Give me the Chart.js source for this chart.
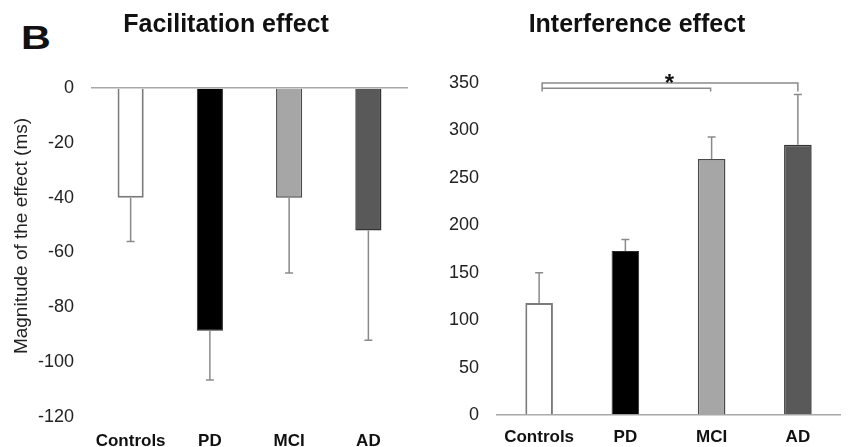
<!DOCTYPE html>
<html>
<head>
<meta charset="utf-8">
<script src="https://cdn.jsdelivr.net/npm/chart.js@4/dist/chart.umd.min.js"></script>
<style>
  body { margin: 0; background: #fff; width: 849px; height: 447px; overflow: hidden; position: relative; }
  #panelLetter { position: absolute; left: 21px; top: 21px; font: bold 33px "Liberation Sans", Arial, sans-serif; line-height: 1; transform: scaleX(1.25); transform-origin: left top; color: #111; }
  .box { position: absolute; top: 0; height: 447px; }
</style>
</head>
<body>
<div id="panelLetter">B</div>
<div class="box" style="left:0;width:430px"><canvas id="facChart" width="430" height="447"></canvas></div>
<div class="box" style="left:430px;width:419px"><canvas id="intChart" width="419" height="447"></canvas></div>
<script>
const groups = ['Controls', 'PD', 'MCI', 'AD'];

// facilitation effect (ms)
const facMeans = [-40, -88.5, -40, -52];
const facErrors = [16, 18, 27.5, 40];
const facTicks = [0, -20, -40, -60, -80, -100, -120];

// interference effect (ms)
const intMeans = [118, 173, 270, 285];
const intErrors = [32, 12, 23, 53];
const intTicks = [0, 50, 100, 150, 200, 250, 300, 350];

const fillColors = ['#ffffff', '#000000', '#a6a6a6', '#595959'];
const edgeColors = ['#7a7a7a', '#2a2a2a', '#4a4a4a', '#333333'];

const FONT = '"Liberation Sans", Arial, sans-serif';

// error bars drawn away from zero, small cap at the end
const errorBars = {
  id: 'errorBars',
  afterDatasetsDraw(chart, args, opts) {
    const ctx = chart.ctx;
    const meta = chart.getDatasetMeta(0);
    const y = chart.scales.y;
    ctx.save();
    ctx.strokeStyle = '#8a8a8a';
    ctx.lineWidth = 1.5;
    meta.data.forEach((bar, i) => {
      const v = opts.means[i];
      const end = v + Math.sign(v) * opts.errors[i];
      const y0 = y.getPixelForValue(v);
      const y1 = y.getPixelForValue(end);
      ctx.beginPath();
      ctx.moveTo(bar.x, y0);
      ctx.lineTo(bar.x, y1);
      ctx.moveTo(bar.x - 4, y1);
      ctx.lineTo(bar.x + 4, y1);
      ctx.stroke();
    });
    ctx.restore();
  }
};

// free text items: panel titles, axis label
const textItems = {
  id: 'textItems',
  afterDraw(chart, args, opts) {
    const ctx = chart.ctx;
    (opts.items || []).forEach(t => {
      ctx.save();
      ctx.font = t.font;
      ctx.fillStyle = t.color || '#111';
      ctx.textAlign = 'center';
      ctx.textBaseline = 'middle';
      ctx.translate(t.x, t.y);
      if (t.rotate) ctx.rotate(t.rotate);
      ctx.fillText(t.text, 0, 0);
      ctx.restore();
    });
  }
};

// significance bracket: Controls vs MCI and Controls vs AD
const bracket = {
  id: 'bracket',
  afterDraw(chart, args, opts) {
    if (!opts.on) return;
    const ctx = chart.ctx;
    const x = chart.scales.x, y = chart.scales.y;
    const xa = x.getPixelForValue(0) + 3;
    const xm = x.getPixelForValue(2) - 1;
    const xd = x.getPixelForValue(3);
    const yTop = y.getPixelForValue(350);
    const yIn = y.getPixelForValue(344.5);
    const yEnd = y.getPixelForValue(341);
    ctx.save();
    ctx.strokeStyle = '#8a8a8a';
    ctx.lineWidth = 1.5;
    ctx.beginPath();
    ctx.moveTo(xa, yEnd); ctx.lineTo(xa, yTop); ctx.lineTo(xd, yTop); ctx.lineTo(xd, yEnd);
    ctx.moveTo(xa, yIn); ctx.lineTo(xm, yIn); ctx.lineTo(xm, yEnd);
    ctx.stroke();
    ctx.fillStyle = '#111';
    ctx.font = 'bold 24px ' + FONT;
    ctx.textAlign = 'center';
    ctx.textBaseline = 'alphabetic';
    ctx.fillText('*', (xa + xm) / 2 + 43, yTop + 8);
    ctx.restore();
  }
};

function makeChart(id, means, errors, ticks, cfg) {
  return new Chart(document.getElementById(id), {
    type: 'bar',
    data: {
      labels: groups,
      datasets: [{
        data: means,
        backgroundColor: fillColors,
        borderColor: edgeColors,
        borderWidth: [2, 1, 1.5, 1.5],
        categoryPercentage: 1,
        barPercentage: cfg.barPct
      }]
    },
    plugins: [errorBars, textItems, bracket],
    options: {
      responsive: false,
      animation: false,
      layout: { padding: cfg.padding },
      plugins: {
        legend: { display: false },
        tooltip: { enabled: false },
        errorBars: { means: means, errors: errors },
        textItems: { items: cfg.texts },
        bracket: { on: cfg.bracket }
      },
      scales: {
        x: {
          grid: { display: false },
          border: { display: false },
          ticks: { color: '#111', font: { family: FONT, size: 17, weight: 'bold' }, padding: cfg.xPad, maxRotation: 0 },
          afterFit(s) { s.height = cfg.xHeight; }
        },
        y: {
          min: Math.min(...ticks),
          max: Math.max(...ticks),
          afterBuildTicks(s) { s.ticks = ticks.map(v => ({ value: v })); },
          grid: {
            drawTicks: false,
            lineWidth: 1.5,
            color: c => (c.tick && c.tick.value === 0 ? '#a8a8a8' : 'transparent')
          },
          border: { display: false },
          ticks: { color: '#222', font: { family: FONT, size: 18 }, padding: 17 },
          afterFit(s) { s.width = cfg.yWidth; }
        }
      }
    }
  });
}

makeChart('facChart', facMeans, facErrors, facTicks, {
  barPct: 0.33,
  padding: { top: 88, right: 22, bottom: 0, left: 0 },
  yWidth: 91,
  xHeight: 30,
  xPad: 6,
  bracket: false,
  texts: [
    { text: 'Facilitation effect', x: 226, y: 25, font: 'bold 25px ' + FONT },
    { text: 'Magnitude of the effect (ms)', x: 22, y: 236, rotate: -Math.PI / 2, font: '19px ' + FONT, color: '#222' }
  ]
});

makeChart('intChart', intMeans, intErrors, intTicks, {
  barPct: 0.32,
  padding: { top: 83, right: 8, bottom: 0, left: 0 },
  yWidth: 66,
  xHeight: 32,
  xPad: 4,
  bracket: true,
  texts: [
    { text: 'Interference effect', x: 207, y: 25, font: 'bold 25px ' + FONT }
  ]
});
</script>
</body>
</html>
